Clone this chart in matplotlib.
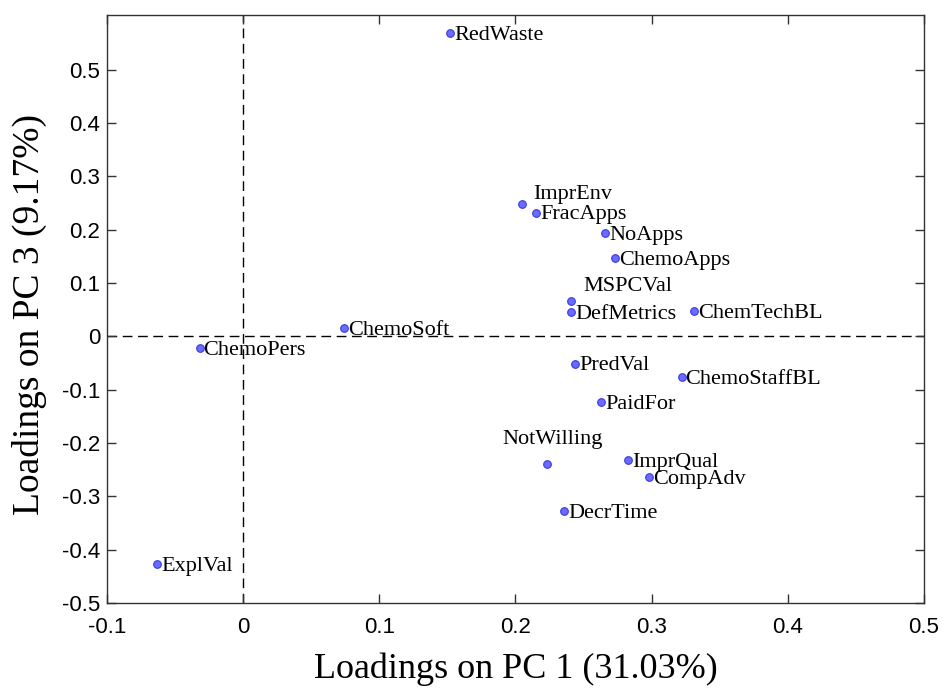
import numpy as np
import matplotlib
matplotlib.use("Agg")
import matplotlib.pyplot as plt

names = ["RedWaste", "ImprEnv", "FracApps", "NoApps", "ChemoApps", "MSPCVal",
         "DefMetrics", "ChemTechBL", "ChemoSoft", "ChemoPers", "PredVal",
         "ChemoStaffBL", "PaidFor", "NotWilling", "ImprQual", "CompAdv",
         "DecrTime", "ExplVal"]
pc1 = [0.152, 0.205, 0.215, 0.266, 0.273, 0.241,
       0.241, 0.331, 0.074, -0.032, 0.244,
       0.322, 0.263, 0.223, 0.283, 0.298,
       0.236, -0.063]
pc3 = [0.569, 0.249, 0.232, 0.194, 0.147, 0.066,
       0.045, 0.047, 0.015, -0.022, -0.051,
       -0.077, -0.123, -0.239, -0.232, -0.264,
       -0.328, -0.427]
# label offsets in pixels (most labels sit just right of the point)
offsets = {"ImprEnv": (11, 9), "MSPCVal": (12, 15), "NotWilling": (-44, 24)}

fig = plt.figure(figsize=(9.44, 6.93), dpi=100)
ax = fig.add_axes([0.1133, 0.1299, 0.8655, 0.8485])

ax.axvline(0, color='k', ls=(0, (7, 4)), lw=1, zorder=1)
ax.axhline(0, color='k', ls=(0, (7, 4)), lw=1, zorder=1)
ax.plot(pc1, pc3, 'o', ms=5.5, mfc='#6b6bff', mec='#3a3ae0', mew=0.8, zorder=3)

for n, x, y in zip(names, pc1, pc3):
    dx, dy = offsets.get(n, (4, -2))
    ax.annotate(n, (x, y), xytext=(dx * 0.72, dy * 0.72), textcoords='offset points',
                ha='left', va='center', fontsize=16, family='Liberation Serif',
                zorder=4)

ax.set_xlim(-0.1, 0.5)
ax.set_ylim(-0.5, 0.603)
ax.set_xticks(np.arange(-0.1, 0.51, 0.1))
ax.set_yticks(np.arange(-0.5, 0.51, 0.1))
ax.set_xticklabels(["-0.1", "0", "0.1", "0.2", "0.3", "0.4", "0.5"])
ax.set_yticklabels(["-0.5", "-0.4", "-0.3", "-0.2", "-0.1", "0",
                    "0.1", "0.2", "0.3", "0.4", "0.5"])
ax.tick_params(direction='in', length=6.5, width=1, top=True, right=True,
               labelsize=16, color='#333333')
ax.tick_params(axis='x', pad=10)
ax.tick_params(axis='y', pad=5)
for lab in ax.get_xticklabels() + ax.get_yticklabels():
    lab.set_family('Liberation Sans')
for s in ax.spines.values():
    s.set_color('#333333')
    s.set_linewidth(1)

ax.set_xlabel("Loadings on PC 1 (31.03%)", fontsize=26, family='Liberation Serif')
ax.set_ylabel("Loadings on PC 3 (9.17%)", fontsize=27, family='Liberation Serif')
ax.xaxis.set_label_coords(0.5, -0.085)
ax.yaxis.set_label_coords(-0.073, 0.49)

fig.savefig("out.png", dpi=100)
